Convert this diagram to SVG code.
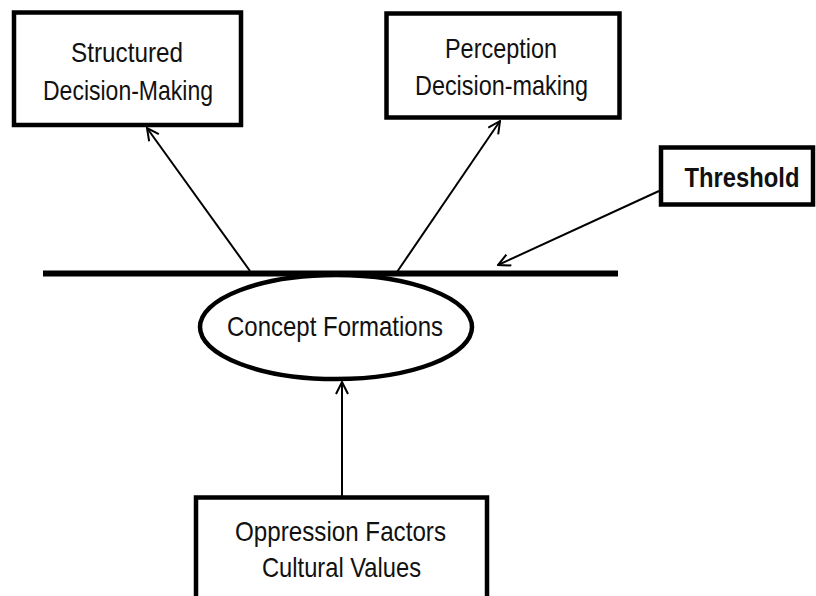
<svg xmlns="http://www.w3.org/2000/svg" width="816" height="596" viewBox="0 0 816 596">
<defs>
<style>
.box{fill:#fff;stroke:#000;stroke-width:4.5}
.t{font-family:"Liberation Sans",Arial,sans-serif;font-size:28px;fill:#111;text-anchor:middle}
.b{font-weight:bold}
.c{fill:none;stroke:#000;stroke-width:2}
</style>
<marker id="arr" viewBox="0 0 14 14" refX="13" refY="7" markerWidth="14" markerHeight="14" markerUnits="userSpaceOnUse" orient="auto">
<path d="M1,1 L13,7 L1,13" fill="none" stroke="#000" stroke-width="2"/>
</marker>
</defs>
<rect width="816" height="596" fill="#fff"/>
<g id="connectors">
<line class="c" x1="250" y1="271" x2="147" y2="128" marker-end="url(#arr)"/>
<line class="c" x1="397" y1="272" x2="500" y2="121" marker-end="url(#arr)"/>
<line class="c" x1="659" y1="191" x2="498" y2="265" marker-end="url(#arr)"/>
<line class="c" x1="342" y1="497" x2="342" y2="382" marker-end="url(#arr)"/>
</g>
<g id="threshold-line">
<line x1="43" y1="273.5" x2="618" y2="273.5" stroke="#000" stroke-width="6"/>
</g>
<g id="structured">
<rect class="box" x="14" y="12.5" width="227" height="112.5"/>
<text class="t" x="127" y="62" textLength="112" lengthAdjust="spacingAndGlyphs">Structured</text>
<text class="t" x="128" y="100" textLength="170" lengthAdjust="spacingAndGlyphs">Decision-Making</text>
</g>
<g id="perception">
<rect class="box" x="386.5" y="13.5" width="233" height="104"/>
<text class="t" x="501" y="58" textLength="112" lengthAdjust="spacingAndGlyphs">Perception</text>
<text class="t" x="501.5" y="95" textLength="173" lengthAdjust="spacingAndGlyphs">Decision-making</text>
</g>
<g id="threshold">
<rect class="box" x="661" y="147.5" width="152" height="57"/>
<text class="t b" x="742" y="187" textLength="115" lengthAdjust="spacingAndGlyphs">Threshold</text>
</g>
<g id="concept">
<ellipse class="box" cx="336" cy="327" rx="136" ry="52"/>
<text class="t" x="335" y="336" textLength="216" lengthAdjust="spacingAndGlyphs">Concept Formations</text>
</g>
<g id="oppression">
<rect class="box" x="196" y="497.5" width="291" height="120"/>
<text class="t" x="340.5" y="541" textLength="211" lengthAdjust="spacingAndGlyphs">Oppression Factors</text>
<text class="t" x="341.5" y="577" textLength="159" lengthAdjust="spacingAndGlyphs">Cultural Values</text>
</g>
</svg>
